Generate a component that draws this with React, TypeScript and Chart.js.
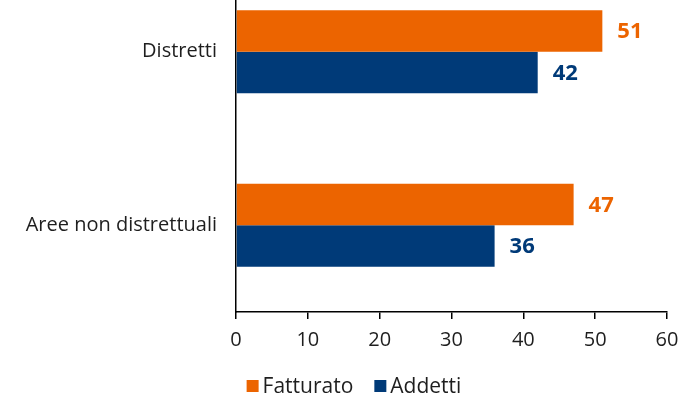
import React, { useEffect, useRef } from "react";
import { Chart, registerables } from "chart.js";
Chart.register(...registerables);

const categories = ["Distretti", "Aree non distrettuali"];
const seriesNames = ["Fatturato", "Addetti"];
const fatturato = [51, 47];
const addetti = [42, 36];
const xMin = 0;
const xMax = 60;
const xStep = 10;

const ORANGE = "#EC6400";
const BLUE = "#003A78";
const TEXT = "#1e1e1e";
const FONT = "'Open Sans', 'DejaVu Sans', sans-serif";

const CANVAS_TOP = -50;
const CANVAS_H = 447;

const valueLabels = {
  id: "valueLabels",
  afterDatasetsDraw(chart: any) {
    const ctx = chart.ctx;
    ctx.save();
    ctx.font = `bold 22px ${FONT}`;
    ctx.textBaseline = "middle";
    ctx.textAlign = "left";
    chart.data.datasets.forEach((ds: any, i: number) => {
      const meta = chart.getDatasetMeta(i);
      meta.data.forEach((el: any, j: number) => {
        ctx.fillStyle = ds.backgroundColor;
        ctx.fillText(String(ds.data[j]), el.x + 15, el.y + 1);
      });
    });
    ctx.restore();
  },
};

const customLegend = {
  id: "customLegend",
  afterDraw(chart: any) {
    const ctx = chart.ctx;
    ctx.save();
    ctx.font = `21px ${FONT}`;
    ctx.textBaseline = "middle";
    ctx.textAlign = "left";
    const box = 12;
    const gap = 4;
    const itemGap = 21;
    const items = chart.data.datasets.map((ds: any) => ({
      label: ds.label,
      color: ds.backgroundColor,
      w: box + gap + ctx.measureText(ds.label).width,
    }));
    const total = items.reduce((s: number, it: any) => s + it.w, 0) + itemGap * (items.length - 1);
    let x = 354 - total / 2;
    const cy = chart.height - 11;
    items.forEach((it: any) => {
      ctx.fillStyle = it.color;
      ctx.fillRect(x, cy - box / 2, box, box);
      ctx.fillStyle = TEXT;
      ctx.fillText(it.label, x + box + gap, cy + 1);
      x += it.w + itemGap;
    });
    ctx.restore();
  },
};

export default function App() {
  const ref = useRef<HTMLCanvasElement | null>(null);
  useEffect(() => {
    if (!ref.current) return;
    const chart = new Chart(ref.current, {
      type: "bar",
      data: {
        labels: categories,
        datasets: [
          { label: seriesNames[0], data: fatturato, backgroundColor: ORANGE, borderWidth: 0 },
          { label: seriesNames[1], data: addetti, backgroundColor: BLUE, borderWidth: 0 },
        ],
      },
      options: {
        indexAxis: "y",
        responsive: false,
        animation: false,
        devicePixelRatio: 1,
        layout: { padding: { top: 15, right: 13, left: 0, bottom: 42 } },
        datasets: { bar: { categoryPercentage: 0.478, barPercentage: 1 } },
        scales: {
          x: {
            min: xMin,
            max: xMax,
            ticks: { stepSize: xStep, color: TEXT, font: { family: FONT, size: 20, lineHeight: 2.1 }, padding: 0 },
            grid: { display: true, drawOnChartArea: false, drawTicks: true, tickLength: 7, color: "#000", lineWidth: 1.5 },
            border: { display: true, color: "#000", width: 1.5 },
            afterFit: (s: any) => { s.height = 43; },
          },
          y: {
            ticks: { color: TEXT, font: { family: FONT, size: 20 }, padding: 0 },
            grid: { display: true, drawOnChartArea: false, drawTicks: true, tickLength: 19, color: "rgba(0,0,0,0)" },
            border: { display: true, color: "#000", width: 1.5 },
            afterFit: (s: any) => { s.width = 236; },
          },
        },
        plugins: {
          legend: { display: false },
          tooltip: { enabled: false },
        },
      },
      plugins: [valueLabels, customLegend],
    });
    return () => chart.destroy();
  }, []);
  return (
    <div style={{ position: "fixed", left: 0, top: 0, width: 680, height: 397, overflow: "hidden", background: "#fff" }}>
      <canvas
        ref={ref}
        width={680}
        height={CANVAS_H}
        style={{ position: "absolute", left: 0, top: CANVAS_TOP, width: 680, height: CANVAS_H }}
      />
    </div>
  );
}
